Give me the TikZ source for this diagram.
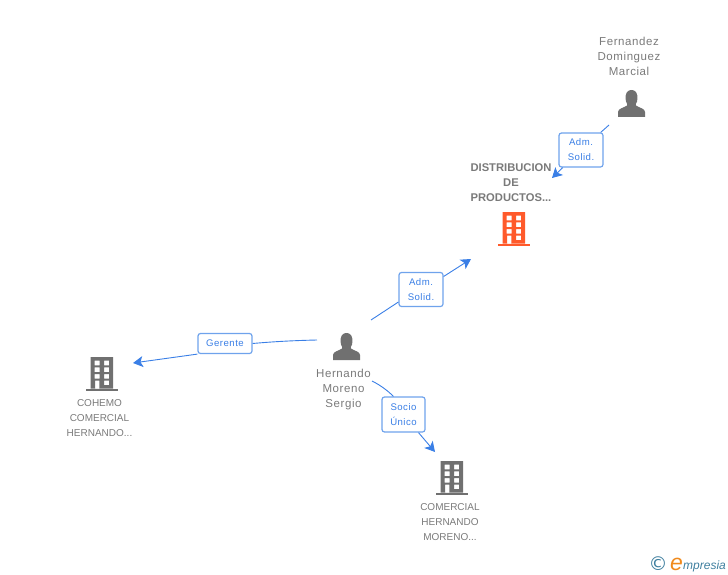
\documentclass[tikz,border=0pt]{standalone}
\usepackage{fontspec}
\setmainfont{Liberation Sans}
\newfontfamily\spaced[LetterSpace=5]{Liberation Sans}
\newfontfamily\logofont{DejaVu Sans}
\usetikzlibrary{arrows.meta}
\definecolor{txtgrey}{HTML}{7A7A7A}
\definecolor{icongrey}{HTML}{707070}
\definecolor{linkblue}{HTML}{3A7FE6}
\definecolor{boxblue}{HTML}{6FA3EC}
\definecolor{accent}{HTML}{FF5A2B}
\definecolor{logoteal}{HTML}{3F7F9F}
\definecolor{logoorange}{HTML}{F08A1D}
\tikzset{
 iconbox/.style={inner sep=0pt,minimum width=27pt,minimum height=27pt},
 personname/.style={text=txtgrey,align=center,font=\fontsize{11.5}{15}\spaced,inner sep=0pt},
 companyname/.style={text=txtgrey,align=center,font=\fontsize{10}{15}\selectfont,inner sep=0pt},
 mainname/.style={text=txtgrey,align=center,font=\fontsize{11.2}{15}\selectfont\bfseries,inner sep=0pt},
 linklabel/.style={draw=boxblue,line width=1.2pt,rounded corners=2.5pt,fill=white,text=linkblue,align=center,inner sep=0pt,font=\fontsize{9.6}{15}\spaced},
 conn/.style={draw=linkblue,line width=.9pt},
 tip/.style={-{Stealth[length=10pt,width=11pt,inset=2.5pt]}},
}
\newcommand{\personicon}[3]{% name, cx, top y
 \node[iconbox,anchor=north] (#1) at (#2,#3) {};
 \fill[icongrey] (#2-13.5,#3+27) -- (#2-13.5,#3+22) .. controls (#2-13.5,#3+18.5) and (#2-8,#3+18) .. (#2-4.5,#3+15.5)
  .. controls (#2-4,#3+14) and (#2-4.5,#3+13.5) .. (#2-5.5,#3+11.5)
  .. controls (#2-7.5,#3+2) and (#2-3,#3+0) .. (#2,#3+0)
  .. controls (#2+3,#3+0) and (#2+7.5,#3+2) .. (#2+5.5,#3+11.5)
  .. controls (#2+4.5,#3+13.5) and (#2+4,#3+14) .. (#2+4.5,#3+15.5)
  .. controls (#2+8,#3+18) and (#2+13.5,#3+18.5) .. (#2+13.5,#3+22) -- (#2+13.5,#3+27) -- cycle;
}
\newcommand{\buildingicon}[4]{% name, left x of base, top y, colour
 \node[iconbox,minimum width=32pt,minimum height=34pt,anchor=north west] (#1) at (#2,#3) {};
 \fill[#4,even odd rule] (#2+4.7,#3) rectangle (#2+27,#3+31.5)
  (#2+8.7,#3+3.5) rectangle (#2+13.7,#3+8.3) (#2+18,#3+3.5) rectangle (#2+23,#3+8.3)
  (#2+8.7,#3+10.3) rectangle (#2+13.7,#3+15) (#2+18,#3+10.3) rectangle (#2+23,#3+15)
  (#2+8.7,#3+17) rectangle (#2+13.7,#3+21.7) (#2+18,#3+17) rectangle (#2+23,#3+21.7)
  (#2+9,#3+23.5) rectangle (#2+13.3,#3+31.5) (#2+18,#3+23.5) rectangle (#2+23,#3+28);
 \fill[#4] (#2,#3+31.5) rectangle (#2+32,#3+34);
}
\begin{document}
\begin{tikzpicture}[x=1pt,y=-1pt]
\useasboundingbox (0,0) rectangle (728,575);
% people
\personicon{pf}{631.5}{90}
\personicon{ph}{346.5}{333}
% buildings
\buildingicon{bd}{498}{212}{accent}
\buildingicon{bc}{86}{357}{icongrey}
\buildingicon{bm}{436}{461}{icongrey}
% names
\node[personname] (nf) at (629,56) {Fernandez\\Dominguez\\Marcial};
\node[personname] (nh) at (343.5,390) {Hernando\\Moreno\\Sergio};
\node[mainname] (nd) at (511,183) {DISTRIBUCION\\DE\\PRODUCTOS...};
\node[companyname] (nc) at (99.5,418.5) {COHEMO\\COMERCIAL\\HERNANDO...};
\node[companyname] (nm) at (450,522) {COMERCIAL\\HERNANDO\\MORENO...};
% connector ends
\coordinate (f0) at (609,125);
\coordinate (f1) at (552,178);
\coordinate (d0) at (371,320);
\coordinate (d1) at (471,259);
\coordinate (g0) at (317,340);
\coordinate (g1) at (133,363);
\coordinate (s0) at (372,381);
\coordinate (s1) at (435,452);
% labels
\node[linklabel,minimum width=44pt,minimum height=34pt] (l1) at (581,150) {Adm.\\Solid.};
\node[linklabel,minimum width=44pt,minimum height=34pt] (l2) at (421,289.5) {Adm.\\Solid.};
\node[linklabel,minimum width=54pt,minimum height=20pt] (l3) at (225,343.5) {Gerente};
\node[linklabel,minimum width=43pt,minimum height=35pt] (l4) at (403.5,414.5) {Socio\\Único};
% connectors
\draw[conn] (f0) -- (l1);
\draw[conn,tip] (l1) -- (f1);
\draw[conn] (d0) -- ([yshift=-12.5pt]l2.west);
\draw[conn,tip] ([yshift=13pt]l2.east) -- (d1);
\draw[conn] (g0) .. controls (295,340.5) and (275,341.5) .. (l3.east);
\draw[conn,tip] (l3.south west) -- (g1);
\draw[conn] (s0) .. controls (381,385.5) and (388,391) .. ([xshift=-10pt]l4.north);
\draw[conn,tip] ([xshift=15pt]l4.south) -- (s1);
% logo
\node[inner sep=0pt,text=logoteal,font=\fontsize{19}{19}\logofont] (lc) at (658,564) {©};
\node[inner sep=0pt,text=logoorange,font=\fontsize{23}{23}\selectfont\itshape,anchor=base west] (le) at (670,570) {e};
\node[inner sep=0pt,text=logoteal,font=\fontsize{12}{15}\selectfont\itshape,anchor=base west] (lm) at (683,569) {mpresia};
\end{tikzpicture}
\end{document}
